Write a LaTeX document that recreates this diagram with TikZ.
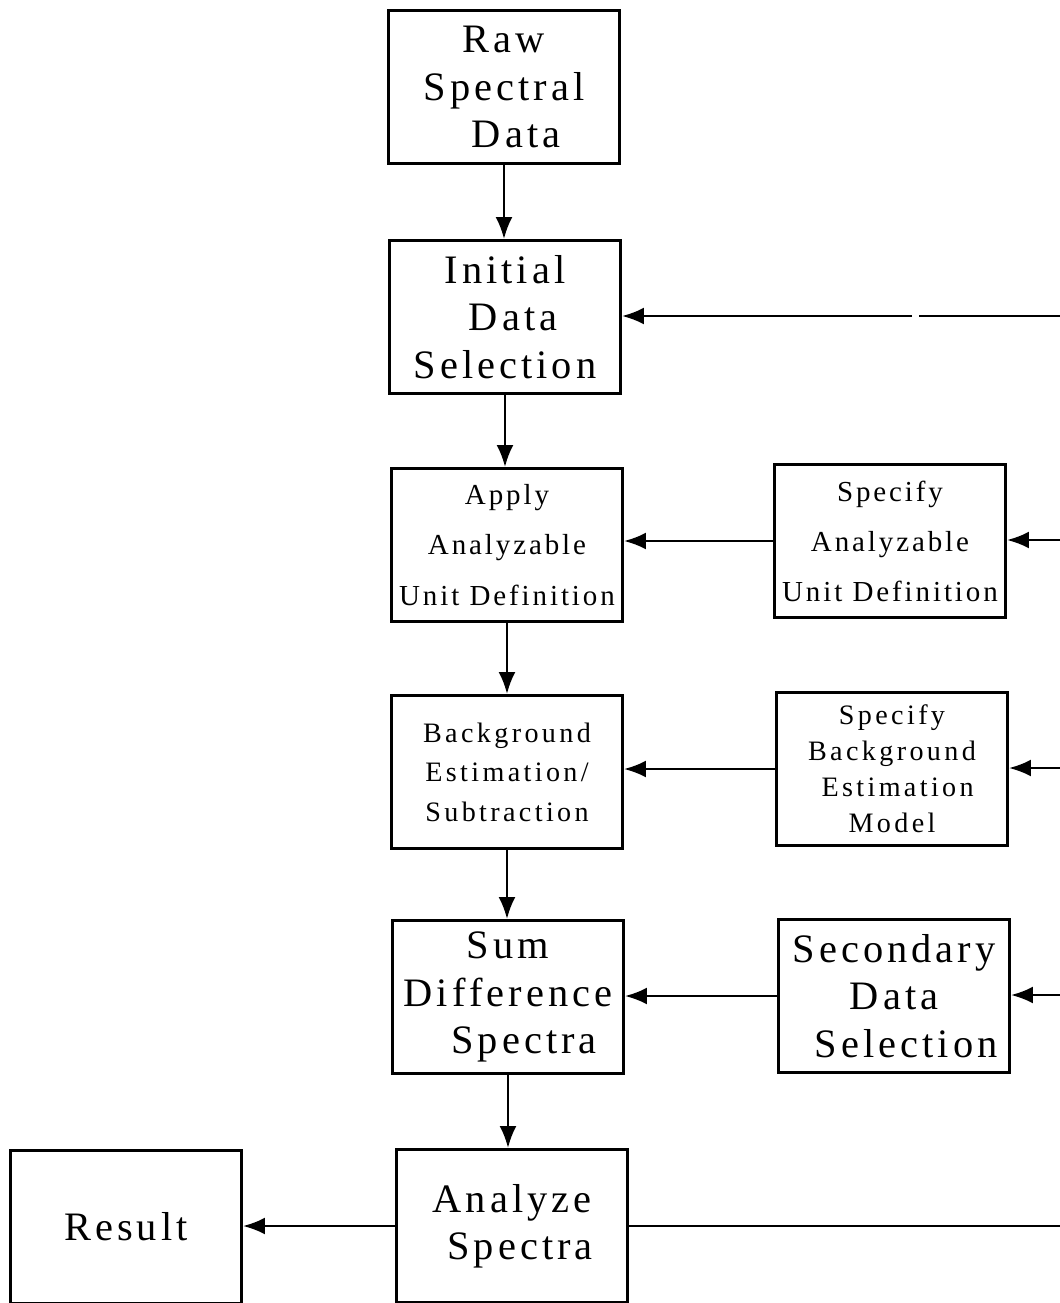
\documentclass[tikz,border=0pt]{standalone}
\usepackage{fontspec}
\setmainfont{Liberation Serif}
\newfontfamily\wideserif[LetterSpace=10]{Liberation Serif}
\newfontfamily\widerserif[LetterSpace=12]{Liberation Serif}
\usetikzlibrary{positioning}
\usetikzlibrary{arrows.meta}
\tikzset{
    x=0.02cm, y=-0.02cm, % One unit is one pixel of the scanned page
    block/.style={ % Sets the properties for each process box
        draw,
        line width=1.7pt,
        inner sep=0pt,
        align=center,
        minimum width=4.62cm,
        minimum height=3.06cm
    },
    bigtext/.style={font=\wideserif\fontsize{23}{27}\selectfont},
    midtext/.style={font=\wideserif\fontsize{16.5}{28.5}\selectfont},
    smalltext/.style={font=\widerserif\fontsize{16}{22.5}\selectfont},
    flow/.style={ % Sets the properties for each connector
        draw,
        line width=1.5pt,
        -{Latex[length=0.44cm,width=0.34cm]}
    },
    bare/.style={draw, line width=1.5pt} % Connector with no head
}

\begin{document}
\begin{tikzpicture}
    \useasboundingbox (0,0) rectangle (1060,1303);

    % main column
    \node[block, bigtext] (raw) at (504,87) {Raw\\Spectral\\\hspace*{0.6em}Data};
    \node[block, bigtext] (init) at (505,317) {Initial\\\hspace*{0.4em}Data\\Selection};
    \node[block, midtext] (apply) at (507,545) {Apply\\Analyzable\\Unit Definition};
    \node[block, smalltext] (bgsub) at (507,772) {Background\\Estimation/\\Subtraction};
    \node[block, bigtext] (sumd) at (508,997) {Sum\\Difference\\\hspace*{0.8em}Spectra};
    \node[block, bigtext] (anal) at (512,1226) {Analyze\\\hspace*{0.4em}Spectra};
    \node[block, bigtext] (result) at (126,1227) {Result};

    % side column
    \node[block, midtext] (specu) at (890,541) {Specify\\Analyzable\\Unit Definition};
    \node[block, smalltext, font=\widerserif\fontsize{16}{20.5}\selectfont] (specbg) at (892,769) {Specify\\Background\\\hspace*{0.4em}Estimation\\Model};
    \node[block, bigtext] (secsel) at (894,996) {Secondary\\Data\\\hspace*{0.6em}Selection};

    % loose ends at the right edge of the page
    \coordinate (eInit) at (1060,316);
    \coordinate (gapR) at (919,316);
    \coordinate (gapL) at (912,316);
    \coordinate (eSpecu) at (1060,540);
    \coordinate (eSpecbg) at (1060,768);
    \coordinate (eSecsel) at (1060,995);
    \coordinate (eAnal) at (1060,1226);

    \draw[flow] (raw.south) -- (raw.south |- init.north);
    \draw[flow] (init.south) -- (init.south |- apply.north);
    \draw[flow] (apply.south) -- (apply.south |- bgsub.north);
    \draw[flow] (bgsub.south) -- (bgsub.south |- sumd.north);
    \draw[flow] (sumd.south) -- (sumd.south |- anal.north);

    \draw[flow] (specu.west) -- (specu.west -| apply.east);
    \draw[flow] (specbg.west) -- (specbg.west -| bgsub.east);
    \draw[flow] (secsel.west) -- (secsel.west -| sumd.east);
    \draw[flow] (anal.west) -- (anal.west -| result.east);

    \draw[bare] (eInit) -- (gapR);
    \draw[flow] (gapL) -- (gapL -| init.east);
    \draw[flow] (eSpecu) -- (eSpecu -| specu.east);
    \draw[flow] (eSpecbg) -- (eSpecbg -| specbg.east);
    \draw[flow] (eSecsel) -- (eSecsel -| secsel.east);
    \draw[bare] (anal.east) -- (eAnal);
\end{tikzpicture}
\end{document}
